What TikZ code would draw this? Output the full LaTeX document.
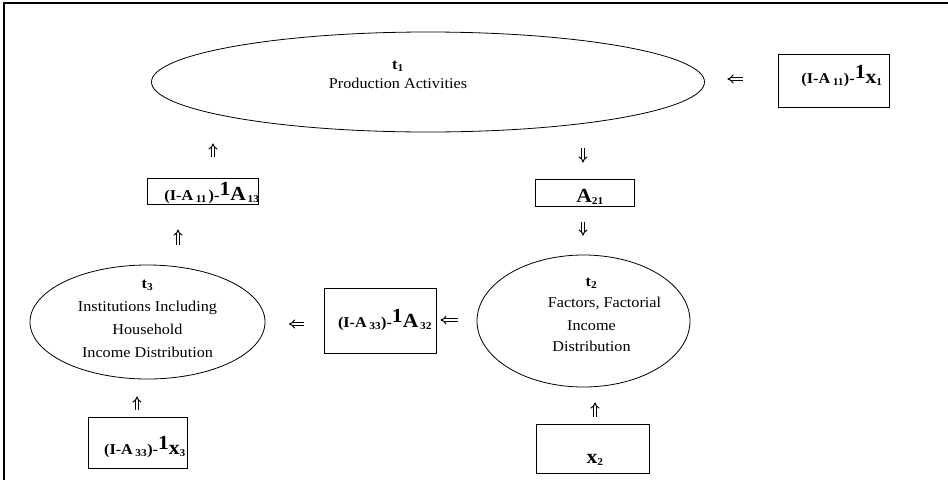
\documentclass[tikz,border=0pt]{standalone}
\usepackage{fontspec}
\setmainfont{Liberation Serif}[FakeStretch=1.08]
\usetikzlibrary{calc,shapes.geometric,arrows.meta}
\newcommand{\bigfont}{\fontsize{20}{20}\selectfont}
\newcommand{\invlbl}[3]{\bfseries(I-A\,\textsubscript{#1})-\raisebox{5pt}{\bigfont 1}{\bigfont #2}\textsubscript{#3}}

\begin{document}
\begin{tikzpicture}[x=1pt,y=-1pt,font=\fontsize{15}{23}\selectfont,
  oval/.style={draw,ellipse,line width=.8pt,inner sep=0pt},
  lblbox/.style={draw,rectangle,line width=1pt,inner sep=0pt},
  imp/.style={double,double distance=2pt,line width=1pt,-{Implies}}]
\useasboundingbox (0,0) rectangle (948,480);
\draw[line width=1.5pt] (948,3) -- (4,3) -- (4,480);

\node[oval,minimum width=553pt,minimum height=100pt] (t1) at (428,82) {};
\node[oval,minimum width=235pt,minimum height=114pt] (t3) at (147.5,322) {};
\node[oval,minimum width=213pt,minimum height=132pt] (t2) at (583.5,321) {};
\node[align=center] (t1txt) at ([xshift=-30pt,yshift=7pt]t1.center) {\textbf{t\textsubscript{1}}\\[-4pt]Production Activities};
\node[align=center] (t3txt) at ([yshift=3pt]t3.center) {\textbf{t\textsubscript{3}}\\Institutions Including\\Household\\Income Distribution};
\node[align=center,text depth=0pt] (t2txt) at ([xshift=8pt,yshift=6pt]t2.center) {\textbf{t\textsubscript{2}}\\[-2pt]\hspace*{26pt}Factors, Factorial\\Income\\[-2pt]Distribution};

\node[lblbox,minimum width=111pt,text height=29pt,text depth=24pt] (x1box) at (833.5,80.5) {\makebox[0pt]{\hspace{17pt}\invlbl{11}{x}{1}}};
\node[lblbox,minimum width=111pt,text height=22pt,text depth=4pt] (a13box) at (202.5,191) {\makebox[0pt]{\hspace{19pt}\invlbl{11\,}{A}{\,13}}};
\node[lblbox,minimum width=99pt,text height=23pt,text depth=4pt] (a21box) at (584.5,192.5) {\makebox[0pt]{\hspace{11pt}\textbf{{\bigfont A}\textsubscript{21}}}};
\node[lblbox,minimum width=112pt,text height=39pt,text depth=26pt] (a32box) at (380,320.5) {\makebox[0pt]{\hspace{10pt}\invlbl{33}{A}{\,32}}};
\node[lblbox,minimum width=99pt,text height=37pt,text depth=14pt] (x3box) at (137.5,442.5) {\makebox[0pt]{\hspace{15pt}\invlbl{33}{x}{3}}};
\node[lblbox,minimum width=113pt,text height=39pt,text depth=10pt] (x2box) at (592.5,448.5) {\makebox[0pt]{\hspace{5pt}\textbf{{\bigfont x}\textsubscript{2}}}};

\coordinate (a1) at ($(x1box.west)+(0,-1.5)$);
\coordinate (b1) at ($(a13box.north)+(10.5,0)$);
\coordinate (c1) at ($(a13box.south)+(-24.5,0)$);
\coordinate (d1) at ($(a21box.north)+(-1.5,0)$);
\coordinate (e1) at ($(a21box.south)+(-1.5,0)$);
\coordinate (f1) at ($(a32box.west)+(0,3.5)$);
\coordinate (g1) at ($(a32box.east)+(0,-0.5)$);
\coordinate (h1) at ($(x3box.north)+(-0.5,0)$);
\coordinate (i1) at ($(x2box.north)+(2.5,0)$);
\draw[imp,shorten <=35pt,shorten >=22.5pt] (a1) -- (a1 -| t1.east);
\draw[imp,shorten <=21pt,shorten >=11pt] (b1) -- (b1 |- t1.south);
\draw[imp,shorten <=20pt,shorten >=25pt] (c1 |- t3.north) -- (c1);
\draw[imp,shorten <=16pt,shorten >=16pt] (d1 |- t1.south) -- (d1);
\draw[imp,shorten <=15pt,shorten >=19pt] (e1) -- (e1 |- t2.north);
\draw[imp,shorten <=20pt,shorten >=23.5pt] (f1) -- (f1 -| t3.east);
\draw[imp,shorten <=19pt,shorten >=4pt] (g1 -| t2.west) -- (g1);
\draw[imp,shorten <=7pt,shorten >=17pt] (h1) -- (h1 |- t3.south);
\draw[imp,shorten <=7pt,shorten >=15pt] (i1) -- (i1 |- t2.south);
\end{tikzpicture}
\end{document}
